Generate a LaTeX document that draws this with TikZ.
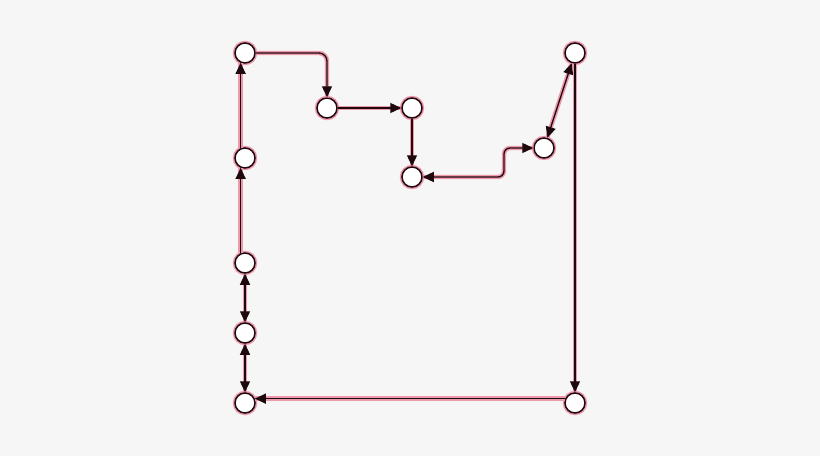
\documentclass[tikz,border=0pt]{standalone}
\usetikzlibrary{arrows.meta}
\definecolor{bg}{HTML}{F6F6F6}
\definecolor{ink}{HTML}{1E0A0E}
\definecolor{halo}{HTML}{EE98AC}
\begin{document}
\begin{tikzpicture}[x=0.5pt,y=-0.5pt,
    >={Triangle[length=5.5pt,width=5pt]},
    vtx/.style={circle,draw=ink,fill=white,line width=0.75pt,
      minimum size=10pt,inner sep=0pt,
      preaction={draw=halo,line width=2.2pt}},
    link/.style={draw=ink,line width=0.65pt,
      preaction={draw=halo,line width=2.2pt,-}}]
      \fill[bg] (0,0) rectangle (820,456);
      \draw[every node/.style=vtx]
        (245,53) node (v0){}
        (245,158) node (v1){}
        (245,263) node (v2){}
        (245,333) node (v3){}
        (245,403) node (v4){}
        (327,108) node (v5){}
        (412,108) node (v6){}
        (412,177) node (v7){}
        (544,148) node (v8){}
        (575,53) node (v9){}
        (575,403) node (v10){};
      \draw[link,->,rounded corners=4pt] (v0) -| (v5);
      \draw[link,->] (v5) to (v6);
      \draw[link,->] (v6) to (v7);
      \draw[link,<->,rounded corners=3pt] (v8) -- ++(-40,0) |- (v7);
      \draw[link,<->] (v8) to (v9);
      \draw[link,->] (v9) to (v10);
      \draw[link,->] (v10.156) to (v4.24);
      \draw[link,<->] (v4) to (v3);
      \draw[link,<->] (v3) to (v2);
      \draw[link,->] (v2.114) to (v1.246);
      \draw[link,->] (v1.114) to (v0.246);
    \end{tikzpicture}
\end{document}
